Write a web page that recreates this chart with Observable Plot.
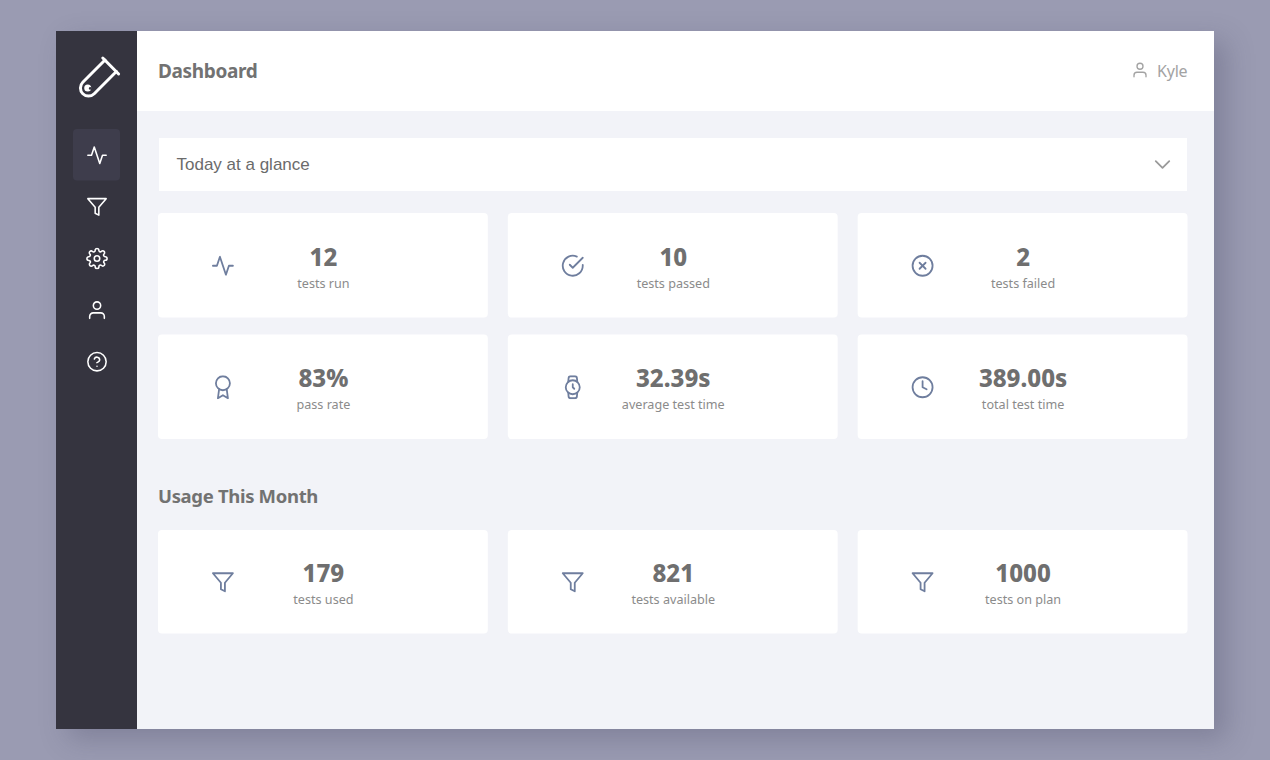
<!DOCTYPE html>
<html>
<head>
<meta charset="utf-8">
<script src="https://cdn.jsdelivr.net/npm/d3@7"></script>
<script src="https://cdn.jsdelivr.net/npm/@observablehq/plot@0.6"></script>
<style>
html,body{margin:0;padding:0;width:1270px;height:760px;overflow:hidden;background:#9a9bb2;}
body{position:relative;font-family:"Noto Sans",sans-serif;}
.abs{position:absolute;}
#panel{left:56px;top:31px;width:1158px;height:698px;background:#f2f3f8;box-shadow:12px 10px 26px rgba(60,60,90,.28);}
#side{left:56px;top:31px;width:81px;height:698px;background:#35343f;}
#head{left:137px;top:31px;width:1077px;height:80px;background:#fff;}
#title{left:158px;top:57px;font-size:19px;font-weight:700;color:#727272;line-height:28px;letter-spacing:-.35px;}
#kyle{left:1157px;top:59px;font-size:16px;color:#a3a3a3;line-height:24px;letter-spacing:-.2px;}
#drop{left:159px;top:138px;width:1028px;height:53px;background:#fff;}
#droptext{left:176.5px;top:152px;font-family:"Liberation Sans",sans-serif;font-size:17px;color:#6b6b6b;line-height:26px;}
#usage{left:158px;top:482px;font-size:18.5px;font-weight:700;color:#727272;line-height:28px;letter-spacing:-.33px;}
</style>
</head>
<body>
<div class="abs" id="panel"></div>
<div class="abs" id="side"></div>
<div class="abs" id="head"></div>
<div class="abs" id="title">Dashboard</div>
<svg class="abs" style="left:1130.5px;top:61px" width="18" height="18" viewBox="0 0 24 24" fill="none" stroke="#a3a3a3" stroke-width="1.8" stroke-linecap="round" stroke-linejoin="round"><path d="M20 21v-2a4 4 0 0 0-4-4H8a4 4 0 0 0-4 4v2"/><circle cx="12" cy="7" r="4"/></svg>
<div class="abs" id="kyle">Kyle</div>
<svg class="abs" style="left:76px;top:55px" width="46" height="46" viewBox="0 0 46 46" fill="none" stroke="#fff" stroke-width="3" stroke-linecap="round" stroke-linejoin="round">
<path d="M26.8 3L42.6 19"/><path d="M29 5L6.8 27.3A8 8 0 0 0 18.2 38.7L40.4 16.5"/><circle cx="11.7" cy="33" r="3.5" fill="#fff" stroke="none"/><circle cx="14.2" cy="33.4" r="1.3" fill="#35343f" stroke="none"/>
</svg>
<div class="abs" id="drop"></div>
<div class="abs" id="droptext">Today at a glance</div>
<svg class="abs" style="left:1148.5px;top:151px" width="27" height="27" viewBox="0 0 24 24" fill="none" stroke="#9a9a9a" stroke-width="1.6" stroke-linecap="round" stroke-linejoin="round"><polyline points="6 9 12 15 18 9"/></svg>
<div class="abs" id="usage">Usage This Month</div>

<script>
// ---- Data ----
const columns = ["first", "second", "third"];
const glanceRows = ["runs", "timing"];
const usageRows = ["usage"];
const navRows = ["activity", "filter", "settings", "user", "help"];

const glanceValues = ["12", "10", "2", "83%", "32.39s", "389.00s"];
const glanceLabels = ["tests run", "tests passed", "tests failed", "pass rate", "average test time", "total test time"];
const glanceIcons = ["activity", "check", "xcircle", "award", "watch", "clock"];

const usageValues = ["179", "821", "1000"];
const usageLabels = ["tests used", "tests available", "tests on plan"];
const usageIcons = ["filter", "filter", "filter"];

// Feather-style glyphs
const glyphs = {
  activity: '<polyline points="22 12 18 12 15 21 9 3 6 12 2 12"/>',
  filter: '<polygon points="22 3 2 3 10 12.46 10 19 14 21 14 12.46 22 3"/>',
  settings: '<circle cx="12" cy="12" r="3"/><path d="M19.4 15a1.65 1.65 0 0 0 .33 1.82l.06.06a2 2 0 0 1 0 2.83 2 2 0 0 1-2.83 0l-.06-.06a1.65 1.65 0 0 0-1.82-.33 1.65 1.65 0 0 0-1 1.51V21a2 2 0 0 1-2 2 2 2 0 0 1-2-2v-.09A1.65 1.65 0 0 0 9 19.4a1.65 1.65 0 0 0-1.82.33l-.06.06a2 2 0 0 1-2.83 0 2 2 0 0 1 0-2.83l.06-.06a1.65 1.65 0 0 0 .33-1.82 1.65 1.65 0 0 0-1.51-1H3a2 2 0 0 1-2-2 2 2 0 0 1 2-2h.09A1.65 1.65 0 0 0 4.6 9a1.65 1.65 0 0 0-.33-1.82l-.06-.06a2 2 0 0 1 0-2.83 2 2 0 0 1 2.83 0l.06.06a1.65 1.65 0 0 0 1.82.33H9a1.65 1.65 0 0 0 1-1.51V3a2 2 0 0 1 2-2 2 2 0 0 1 2 2v.09a1.65 1.65 0 0 0 1 1.51 1.65 1.65 0 0 0 1.82-.33l.06-.06a2 2 0 0 1 2.83 0 2 2 0 0 1 0 2.83l-.06.06a1.65 1.65 0 0 0-.33 1.82V9a1.65 1.65 0 0 0 1.51 1H21a2 2 0 0 1 2 2 2 2 0 0 1-2 2h-.09a1.65 1.65 0 0 0-1.51 1z"/>',
  user: '<path d="M20 21v-2a4 4 0 0 0-4-4H8a4 4 0 0 0-4 4v2"/><circle cx="12" cy="7" r="4"/>',
  help: '<circle cx="12" cy="12" r="10"/><path d="M9.09 9a3 3 0 0 1 5.83 1c0 2-3 3-3 3"/><line x1="12" y1="17" x2="12.01" y2="17"/>',
  check: '<path d="M22 11.08V12a10 10 0 1 1-5.93-9.14"/><polyline points="22 4 12 14.01 9 11.01"/>',
  xcircle: '<circle cx="12" cy="12" r="10"/><line x1="15" y1="9" x2="9" y2="15"/><line x1="9" y1="9" x2="15" y2="15"/>',
  award: '<circle cx="12" cy="8" r="7"/><polyline points="8.21 13.89 7 23 12 20 17 23 15.79 13.88"/>',
  watch: '<circle cx="12" cy="12" r="7"/><polyline points="12 9 12 12 13.5 13.5"/><path d="M16.51 17.35l-.35 3.83a2 2 0 0 1-2 1.82H9.83a2 2 0 0 1-2-1.82l-.35-3.83m.01-10.7l.35-3.83A2 2 0 0 1 9.83 1h4.35a2 2 0 0 1 2 1.82l.35 3.83"/>',
  clock: '<circle cx="12" cy="12" r="10"/><polyline points="12 6 12 12 16 14"/>'
};
const iconUri = (name, color, sw) => "data:image/svg+xml;utf8," + encodeURIComponent(
  `<svg xmlns="http://www.w3.org/2000/svg" width="96" height="96" viewBox="0 0 24 24" fill="none" stroke="${color}" stroke-width="${sw}" stroke-linecap="round" stroke-linejoin="round">${glyphs[name]}</svg>`);

function place(svg, left, top) {
  svg.style.position = "absolute";
  svg.style.left = left + "px";
  svg.style.top = top + "px";
  document.body.appendChild(svg);
}

function cards(rows, values, labels, icons, height) {
  const table = values.map((value, i) => ({
    col: columns[i % columns.length],
    row: rows[Math.floor(i / columns.length)],
    value, label: labels[i], icon: iconUri(icons[i], "#6f7e9e", 1.8)
  }));
  return Plot.plot({
    width: 1029.5, height,
    margin: 0,
    style: {background: "transparent", fontFamily: '"Noto Sans", sans-serif', overflow: "visible"},
    x: {axis: null, domain: columns, paddingInner: 20 / 349.83, paddingOuter: 0, round: false},
    y: {axis: null, domain: rows, paddingInner: rows.length > 1 ? 17 / 121.5 : 0, paddingOuter: 0, round: false},
    marks: [
      Plot.cell(table, {x: "col", y: "row", fill: "#fff", rx: 4}),
      Plot.image(table, {x: "col", y: "row", src: "icon", width: 24, height: 24, dx: -100.5}),
      Plot.text(table, {x: "col", y: "row", text: "value", dy: -7.5, fontSize: 24, fontWeight: 800, fill: "#6f6f6f"}),
      Plot.text(table, {x: "col", y: "row", text: "label", dy: 18, fontSize: 12.6, fill: "#8b8b8b"})
    ]
  });
}

place(cards(glanceRows, glanceValues, glanceLabels, glanceIcons, 226), 158, 213);
place(cards(usageRows, usageValues, usageLabels, usageIcons, 103.5), 158, 530.4);

const navTable = navRows.map(name => ({
  col: "nav", row: name, icon: iconUri(name, "#ffffff", 1.7)
}));
place(Plot.plot({
  width: 81, height: 258,
  margin: 0,
  style: {background: "transparent"},
  x: {axis: null, domain: ["nav"], round: false, padding: 0},
  y: {axis: null, domain: navRows, round: false, padding: 0},
  marks: [
    Plot.cell(navTable.slice(0, 1), {x: "col", y: "row", fill: "#3e3d4c", rx: 4, insetLeft: 17, insetRight: 17}),
    Plot.image(navTable, {x: "col", y: "row", src: "icon", width: 22, height: 22})
  ]
}), 56, 129);
</script>
</body>
</html>
